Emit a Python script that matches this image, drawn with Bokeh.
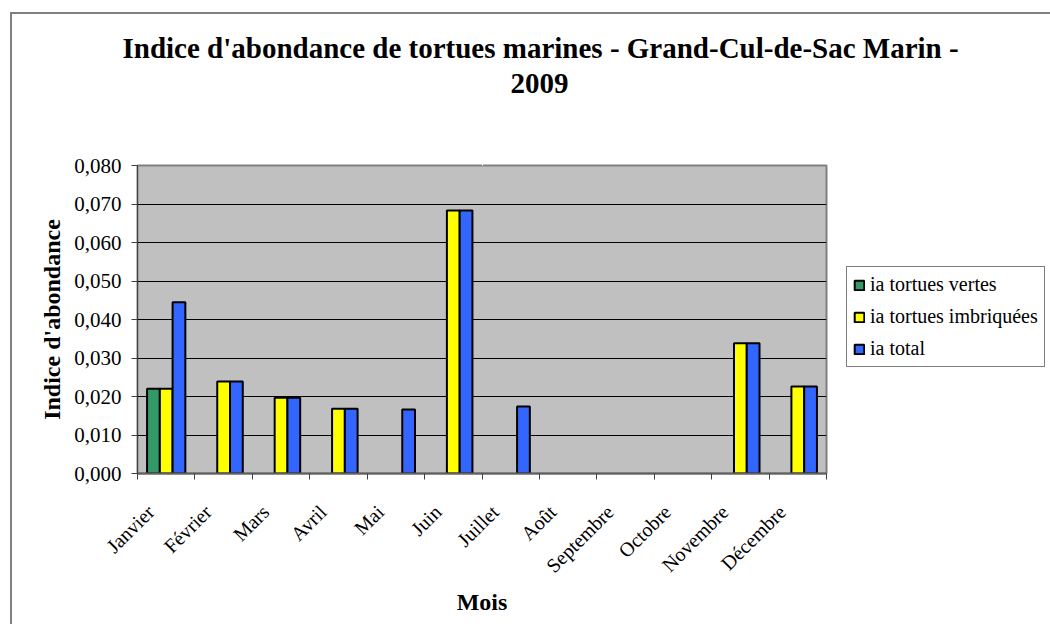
from bokeh.plotting import figure
from bokeh.models import (Range1d, FixedTicker, ColumnDataSource, Legend, LegendItem,
                          Title, LinearAxis)
from bokeh.transform import dodge
from bokeh.embed import file_html
from bokeh.resources import INLINE

months = ["Janvier", "Février", "Mars", "Avril", "Mai", "Juin", "Juillet",
          "Août", "Septembre", "Octobre", "Novembre", "Décembre"]
ia_vertes = [0.0220, None, None, None, None, None, None, None, None, None, None, None]
ia_imbriquees = [0.0220, 0.0239, 0.0197, 0.0168, None, 0.0683, None, None, None, None, 0.0338, 0.0226]
ia_total = [0.0445, 0.0239, 0.0197, 0.0168, 0.0166, 0.0683, 0.0174, None, None, None, 0.0338, 0.0226]
series_names = ["ia tortues vertes", "ia tortues imbriquées", "ia total"]
y_ticks = [0.0, 0.01, 0.02, 0.03, 0.04, 0.05, 0.06, 0.07, 0.08]
y_tick_labels = ["0,000", "0,010", "0,020", "0,030", "0,040", "0,050", "0,060", "0,070", "0,080"]
title_line1 = "Indice d'abondance de tortues marines - Grand-Cul-de-Sac Marin -"
title_line2 = "2009"

FONT = "Liberation Serif"
nan = float("nan")

def clean(v):
    return [nan if a is None else a for a in v]

xs = [i + 0.5 for i in range(len(months))]
src = ColumnDataSource(dict(x=xs, v=clean(ia_vertes), i=clean(ia_imbriquees), t=clean(ia_total)))

p = figure(frame_width=689, frame_height=308, output_backend="svg", toolbar_location=None,
           x_range=Range1d(0, len(months)), y_range=Range1d(0, 0.08),
           min_border_left=125, min_border_right=218, min_border_top=151, min_border_bottom=151,
           margin=(12, 0, 0, 10),
           styles={"border-left": "2px solid #808080", "border-top": "2px solid #808080"})
p.background_fill_color = "#C0C0C0"
p.border_fill_color = "white"
p.outline_line_color = "#808080"
p.outline_line_width = 2

bw = 1 / 4.5
colors = ["#339966", "#FFFF00", "#3366FF"]
r1 = p.vbar(x=dodge("x", -bw, range=p.x_range), top="v", width=bw, source=src,
            fill_color=colors[0], line_color="black", line_width=2)
r2 = p.vbar(x=dodge("x", 0, range=p.x_range), top="i", width=bw, source=src,
            fill_color=colors[1], line_color="black", line_width=2)
r3 = p.vbar(x=dodge("x", bw, range=p.x_range), top="t", width=bw, source=src,
            fill_color=colors[2], line_color="black", line_width=2)

# y axis
p.yaxis.ticker = FixedTicker(ticks=y_ticks)
p.yaxis.major_label_overrides = dict(zip(y_ticks, y_tick_labels))
p.yaxis.minor_tick_line_color = None
p.yaxis.major_tick_in = 0
p.yaxis.major_tick_out = 6
p.yaxis.axis_line_color = "#404040"
p.yaxis.major_tick_line_color = "#404040"
p.yaxis.major_label_text_font = FONT
p.yaxis.major_label_text_font_size = "21px"
p.yaxis.major_label_text_color = "black"
p.yaxis.major_label_standoff = 10
p.yaxis.axis_label = "Indice d'abondance"
p.yaxis.axis_label_text_font = FONT
p.yaxis.axis_label_text_font_style = "bold"
p.yaxis.axis_label_text_font_size = "24px"
p.yaxis.axis_label_text_color = "black"
p.yaxis.axis_label_standoff = 6

# x axis: labels near category centres, ticks at category boundaries
label_shift = -0.27
label_pos = [x + label_shift for x in xs]
p.xaxis.ticker = FixedTicker(ticks=label_pos, minor_ticks=list(range(len(months) + 1)))
p.xaxis.major_label_overrides = dict(zip(label_pos, months))
p.xaxis.major_label_orientation = 0.785398
p.xaxis.major_tick_in = 0
p.xaxis.major_tick_out = 0
p.xaxis.minor_tick_in = 0
p.xaxis.minor_tick_out = 6
p.xaxis.minor_tick_line_color = "#404040"
p.xaxis.axis_line_color = "#606060"
p.xaxis.axis_line_width = 2
p.xaxis.major_label_text_font = FONT
p.xaxis.major_label_text_font_size = "20px"
p.xaxis.major_label_text_color = "black"
p.xaxis.major_label_standoff = 29
p.xaxis.axis_label = "Mois"
p.xaxis.axis_label_text_font = FONT
p.xaxis.axis_label_text_font_style = "bold"
p.xaxis.axis_label_text_font_size = "24px"
p.xaxis.axis_label_text_color = "black"
p.xaxis.axis_label_standoff = 1

p.xgrid.grid_line_color = None
p.ygrid.grid_line_color = "black"
p.ygrid.grid_line_width = 1

# legend (right panel)
legend = Legend(items=[LegendItem(label=series_names[0], renderers=[r1]),
                       LegendItem(label=series_names[1], renderers=[r2]),
                       LegendItem(label=series_names[2], renderers=[r3])],
                location=(20, 106))
legend.label_text_font = FONT
legend.label_text_font_size = "20px"
legend.label_text_color = "black"
legend.glyph_width = 12
legend.glyph_height = 12
legend.label_height = 20
legend.spacing = 9
legend.padding = 6
legend.margin = 8
legend.label_standoff = 5
legend.border_line_color = "black"
legend.border_line_width = 1
legend.background_fill_color = "white"
legend.background_fill_alpha = 1
p.add_layout(legend, "right")

# blank spacer between the frame and the two title lines
spacer = LinearAxis(ticker=FixedTicker(ticks=[6]), axis_line_color=None,
                    major_tick_out=73, major_tick_in=0, major_tick_line_color="white",
                    minor_tick_line_color=None, major_label_overrides={6: ""},
                    major_label_text_font_size="1px", major_label_standoff=0)
p.add_layout(spacer, "above")

t2 = Title(text=title_line2, align="left", offset=373, standoff=0, vertical_align="bottom",
           text_font=FONT, text_font_style="bold", text_font_size="29px", text_color="black")
t1 = Title(text=title_line1, align="left", offset=-15, standoff=16, vertical_align="bottom",
           text_font=FONT, text_font_style="bold", text_font_size="29px", text_color="black")
p.add_layout(t2, "above")
p.add_layout(t1, "above")

open("out.html", "w").write(file_html(p, INLINE))
